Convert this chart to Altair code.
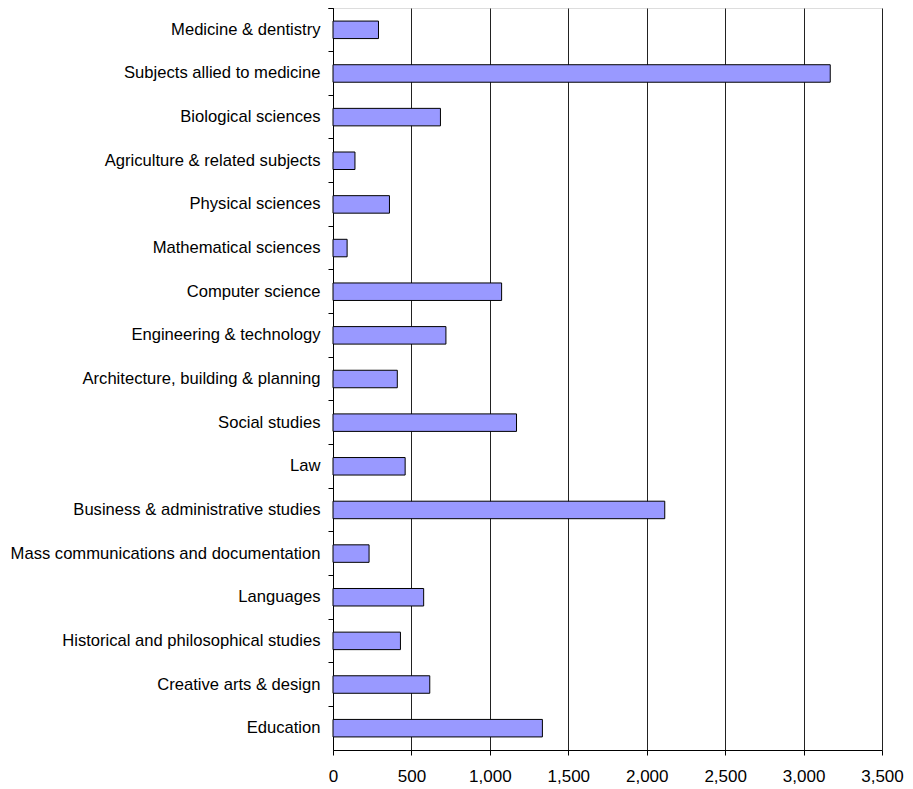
import altair as alt
import pandas as pd

subjects = [
    "Medicine & dentistry",
    "Subjects allied to medicine",
    "Biological sciences",
    "Agriculture & related subjects",
    "Physical sciences",
    "Mathematical sciences",
    "Computer science",
    "Engineering & technology",
    "Architecture, building & planning",
    "Social studies",
    "Law",
    "Business & administrative studies",
    "Mass communications and documentation",
    "Languages",
    "Historical and philosophical studies",
    "Creative arts & design",
    "Education",
]
values = [290, 3170, 685, 140, 360, 90, 1075, 720, 410, 1170, 460, 2115, 230, 578, 430, 617, 1335]
x_ticks = [0, 500, 1000, 1500, 2000, 2500, 3000, 3500]

df = pd.DataFrame({"subject": subjects, "value": values})

chart = alt.Chart(df).mark_bar(
    color="#9999FF", stroke="#000000", strokeWidth=1, size=17.5
).encode(
    x=alt.X(
        "value:Q",
        scale=alt.Scale(domain=[0, 3500], nice=False),
        axis=alt.Axis(
            title=None, values=x_ticks, format=",.0f", grid=True, gridColor="#222222",
            gridWidth=1, domainColor="#000000", tickColor="#000000", tickSize=5,
            labelFontSize=17, labelFont="Liberation Sans", labelColor="#000000",
            labelPadding=13, labelFlush=False,
        ),
    ),
    y=alt.Y(
        "subject:N",
        sort=subjects,
        scale=alt.Scale(paddingInner=0, paddingOuter=0),
        axis=alt.Axis(
            title=None, domainColor="#000000", tickColor="#000000", tickSize=5,
            bandPosition=0, tickExtra=True, grid=False,
            labelFontSize=16.6, labelFont="Liberation Sans", labelColor="#000000",
            labelPadding=8, labelLimit=400,
        ),
    ),
).properties(
    width=549,
    height=742,
    autosize=alt.AutoSizeParams(type="none"),
    padding={"left": 325, "top": 0, "right": 23, "bottom": 39},
).configure_view(
    stroke="#000000", strokeWidth=1
).configure(background="#ffffff")

chart.save("out.html", embed_options={"renderer": "svg", "actions": False})
